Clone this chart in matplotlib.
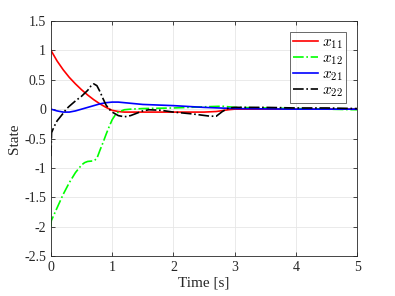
import matplotlib
matplotlib.use("Agg")
import matplotlib.pyplot as plt

plt.rcParams['font.family'] = ['Liberation Serif', 'DejaVu Serif']
plt.rcParams['mathtext.fontset'] = 'cm'

t11 = [0, 0.1, 0.2, 0.3, 0.4, 0.5, 0.6, 0.7, 0.8, 0.9, 1.0, 1.1, 1.2, 1.5, 2.0, 2.5, 2.7, 2.9, 3.0, 3.5, 4.0, 5.0]
x11 = [1.0, 0.82, 0.67, 0.54, 0.43, 0.33, 0.24, 0.16, 0.09, 0.03, -0.02, -0.04, -0.05, -0.05, -0.05, -0.05, -0.04, -0.01, 0.0, 0.0, 0.0, 0.0]

t12 = [0, 0.005, 0.1, 0.2, 0.3, 0.4, 0.5, 0.55, 0.6, 0.7, 0.75, 0.8, 0.85, 0.9, 0.95, 1.0, 1.05, 1.1, 1.2, 1.3, 1.5, 2.0, 2.5, 2.8, 3.0, 3.5, 4.0, 5.0]
x12 = [-2.0, -1.9, -1.68, -1.45, -1.25, -1.08, -0.95, -0.91, -0.89, -0.88, -0.84, -0.7, -0.57, -0.43, -0.3, -0.18, -0.1, -0.05, -0.01, 0.0, 0.01, 0.02, 0.04, 0.05, 0.03, 0.02, 0.01, -0.01]

t21 = [0, 0.1, 0.2, 0.3, 0.4, 0.5, 0.6, 0.7, 0.8, 0.9, 1.0, 1.1, 1.3, 1.5, 2.0, 2.5, 3.0, 3.5, 4.0, 5.0]
x21 = [0.0, -0.03, -0.05, -0.05, -0.03, 0.0, 0.03, 0.06, 0.09, 0.11, 0.12, 0.12, 0.1, 0.08, 0.06, 0.03, 0.01, 0.005, 0.0, 0.0]

t22 = [0, 0.01, 0.05, 0.1, 0.2, 0.25, 0.3, 0.4, 0.5, 0.6, 0.65, 0.7, 0.75, 0.8, 0.85, 0.9, 0.95, 1.0, 1.1, 1.2, 1.3, 1.4, 1.5, 1.6, 1.8, 2.0, 2.3, 2.6, 2.7, 2.8, 2.9, 3.0, 3.5, 4.0, 4.5, 5.0]
x22 = [-0.8, -0.4, -0.3, -0.2, -0.07, 0.0, 0.05, 0.14, 0.22, 0.32, 0.39, 0.43, 0.4, 0.3, 0.18, 0.07, 0.0, -0.05, -0.11, -0.13, -0.11, -0.07, -0.03, -0.01, -0.02, -0.05, -0.08, -0.12, -0.12, -0.04, 0.02, 0.03, 0.03, 0.02, 0.02, 0.01]

labels = [r'$x_{11}$', r'$x_{12}$', r'$x_{21}$', r'$x_{22}$']

fig = plt.figure(figsize=(3.95, 2.96), dpi=100)
ax = fig.add_axes([0.129, 0.135, 0.775, 0.794])

ax.plot(t11, x11, color='#ff0000', lw=1.2, ls='-', label=labels[0])
ax.plot(t12, x12, color='#00ff00', lw=1.2, ls='-.', label=labels[1])
ax.plot(t21, x21, color='#0000ff', lw=1.2, ls='-', label=labels[2])
ax.plot(t22, x22, color='#000000', lw=1.2, ls='-.', label=labels[3])

ax.set_xlim(0, 5)
ax.set_ylim(-2.5, 1.5)
ax.set_xticks([0, 1, 2, 3, 4, 5])
ax.set_yticks([-2.5, -2, -1.5, -1, -0.5, 0, 0.5, 1, 1.5])
ax.set_yticklabels(['-2.5', '-2', '-1.5', '-1', '-0.5', '0', '0.5', '1', '1.5'])
ax.grid(True, color='#e6e6e6', lw=0.6)
ax.set_axisbelow(True)
ax.tick_params(direction='in', top=True, right=True, labelsize=10, length=3, width=0.6, colors='#262626')
for s in ax.spines.values():
    s.set_linewidth(0.6)
    s.set_color('#262626')
ax.set_xlabel('Time [s]', fontsize=11, color='#262626', labelpad=2)
ax.set_ylabel('State', fontsize=11, color='#262626', labelpad=2)

leg = ax.legend(loc='upper right', fontsize=11, fancybox=False, edgecolor='#262626',
                handlelength=1.6, borderpad=0.25, labelspacing=0.05, handletextpad=0.25,
                borderaxespad=0.7)
leg.get_frame().set_linewidth(0.6)

fig.savefig('out.png', dpi=100)
